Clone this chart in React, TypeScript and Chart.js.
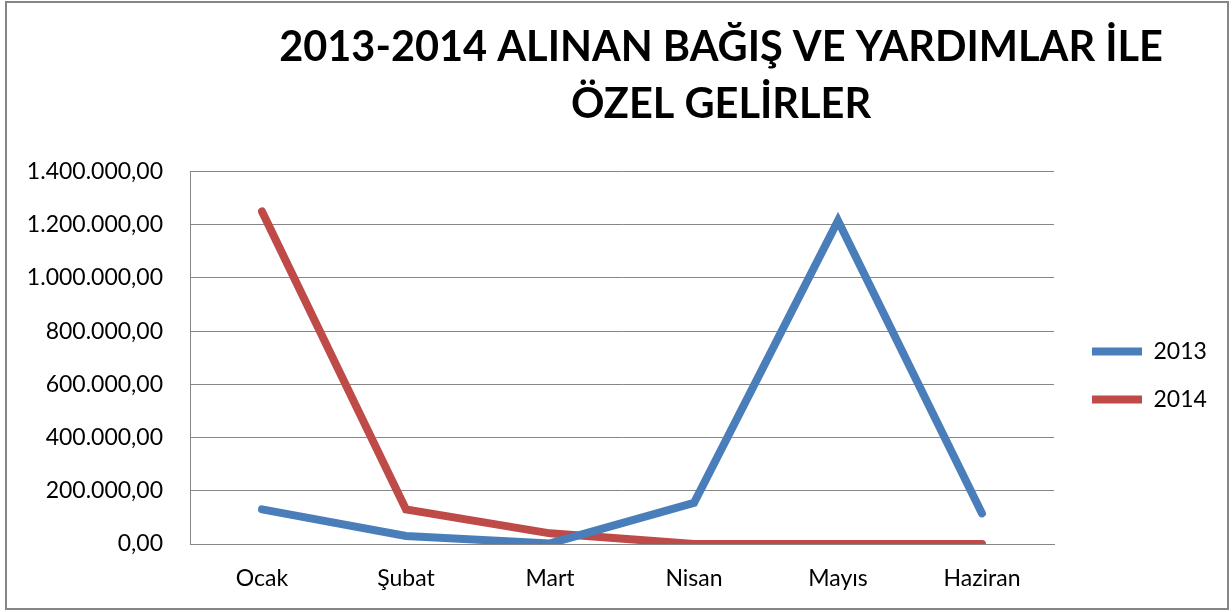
import React, { useEffect, useRef } from "react";
import { Chart, registerables } from "chart.js";

Chart.register(...registerables);

const months = ["Ocak", "Şubat", "Mart", "Nisan", "Mayıs", "Haziran"];
const series2013 = [130000, 30000, 2000, 155000, 1215000, 115000];
const series2014 = [1250000, 130000, 40000, 0, 0, 0];
const titleLines = ["2013-2014 ALINAN BAĞIŞ VE YARDIMLAR İLE", "ÖZEL GELİRLER"];
const yMin = 0;
const yMax = 1400000;
const yStep = 200000;

const FONT = "Lato, 'Open Sans', sans-serif";

function formatTR(v: number): string {
  const fixed = Math.abs(v).toFixed(2);
  const [intPart, dec] = fixed.split(".");
  const withDots = intPart.replace(/\B(?=(\d{3})+(?!\d))/g, ".");
  return (v < 0 ? "-" : "") + withDots + "," + dec;
}

export default function App() {
  const ref = useRef<HTMLCanvasElement | null>(null);

  useEffect(() => {
    document.body.style.margin = "0";
    const canvas = ref.current;
    if (!canvas) return;

    const layoutTweaks = {
      id: "layoutTweaks",
      beforeLayout(chart: any) {
        const lg = chart.legend;
        if (lg && !lg._patched) {
          const f = lg.fit;
          lg.fit = function () {
            f.call(this);
            this.width = 173;
          };
          lg._patched = true;
        }
      },
      afterLayout(chart: any) {
        const t = chart.titleBlock;
        if (t) {
          const shift = 714 - (t.left + t.right) / 2;
          t.left += shift;
          t.right += shift;
        }
        const lg = chart.legend;
        if (lg) {
          lg.left += 13;
          lg.top += 140;
        }
      },
    };

    const chart = new Chart(canvas, {
      type: "line",
      data: {
        labels: months,
        datasets: [
          {
            label: "2013",
            data: series2013,
            borderColor: "#4A7EBB",
            backgroundColor: "#4A7EBB",
            borderWidth: 8,
            borderCapStyle: "round",
            pointRadius: 0,
            pointHoverRadius: 0,
            tension: 0,
            pointStyle: "line",
          },
          {
            label: "2014",
            data: series2014,
            borderColor: "#BE4B48",
            backgroundColor: "#BE4B48",
            borderWidth: 8,
            borderCapStyle: "round",
            pointRadius: 0,
            pointHoverRadius: 0,
            tension: 0,
            pointStyle: "line",
          },
        ],
      },
      options: {
        animation: false,
        responsive: true,
        maintainAspectRatio: false,
        layout: { padding: 0 },
        plugins: {
          title: {
            display: true,
            text: titleLines,
            color: "#000",
            font: { family: FONT, size: 41.5, weight: "bold", lineHeight: 1.38 },
            padding: { top: 16, bottom: 38 },
          },
          legend: {
            position: "right",
            labels: {
              usePointStyle: true,
              pointStyleWidth: 50,
              padding: 25,
              color: "#000",
              font: { family: FONT, size: 23 },
            },
          },
          tooltip: { enabled: false },
        },
        scales: {
          x: {
            offset: true,
            grid: { display: false, drawTicks: false },
            border: { display: true, color: "#868686", width: 1 },
            ticks: { color: "#000", font: { family: FONT, size: 23 }, padding: 21, maxRotation: 0 },
            afterFit(scale: any) {
              scale.height = 64;
            },
          },
          y: {
            min: yMin,
            max: yMax,
            grid: { color: "#868686", lineWidth: 1, drawTicks: false },
            border: { display: true, color: "#868686", width: 1 },
            ticks: {
              stepSize: yStep,
              color: "#000",
              font: { family: FONT, size: 23 },
              padding: 27,
              callback: (v: any) => formatTR(Number(v)),
            },
            afterFit(scale: any) {
              scale.width = 183;
            },
          },
        },
      },
      plugins: [layoutTweaks],
    });

    return () => chart.destroy();
  }, []);

  return (
    <div
      style={{
        position: "absolute",
        left: 5,
        top: 1,
        width: 1224,
        height: 609,
        border: "2px solid #868686",
        boxSizing: "border-box",
        background: "#fff",
      }}
    >
      <canvas ref={ref} />
    </div>
  );
}
